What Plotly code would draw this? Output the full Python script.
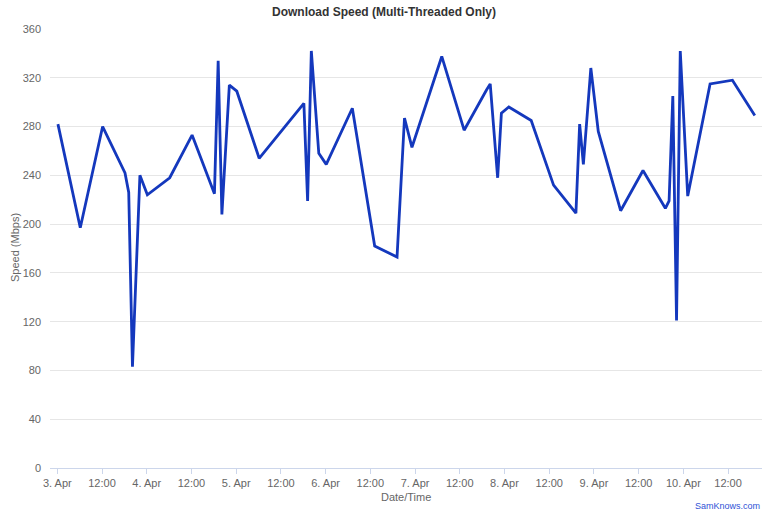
import plotly.graph_objects as go
from datetime import datetime, timedelta

# Hours after 3 Apr 00:00 and download speed (Mbps)
hours = [0, 6, 12, 18, 19, 20, 22, 24, 30, 36, 42, 43, 44, 46, 48, 54,
         66, 67, 68, 70, 72, 79, 85, 91, 93, 95, 103, 109, 115, 116, 118, 119,
         121, 127, 133, 139, 140, 141, 143, 145, 151, 157, 163, 164, 165, 166,
         167, 169, 175, 181, 187]
speeds = [282, 197, 280, 242, 226, 83, 240, 224, 238, 273, 225, 334, 208, 314, 309, 254,
          299, 219, 342, 258, 249, 295, 182, 173, 287, 263, 337.5, 277, 310, 315, 238, 291,
          296, 285, 232, 209, 282, 249, 328, 276, 211, 244, 213, 219, 305, 121,
          342, 223, 315, 318, 289]

base = datetime(2014, 4, 3, 0, 10)
times = [base + timedelta(hours=h) for h in hours]

tick_vals = [datetime(2014, 4, 3) + timedelta(hours=12 * i) for i in range(16)]
tick_text = ["3. Apr", "12:00", "4. Apr", "12:00", "5. Apr", "12:00", "6. Apr", "12:00",
             "7. Apr", "12:00", "8. Apr", "12:00", "9. Apr", "12:00", "10. Apr", "12:00"]
y_ticks = [0, 40, 80, 120, 160, 200, 240, 280, 320, 360]

font_family = "Arial, Liberation Sans, sans-serif"

L, R, T, B = 50, 6, 29, 44
plot_w = 768 - L - R
plot_h = 512 - T - B

fig = go.Figure()
fig.add_trace(go.Scatter(
    x=times, y=speeds, mode="lines",
    line=dict(color="#1438bd", width=2.8),
    hoverinfo="x+y", showlegend=False,
))

fig.update_layout(
    template="none",
    width=768, height=512,
    margin=dict(l=L, r=R, t=T, b=B, autoexpand=False),
    paper_bgcolor="white", plot_bgcolor="white",
    font=dict(family=font_family, size=11, color="#666666"),
    title=dict(text="<b>Download Speed (Multi-Threaded Only)</b>", x=0.5, xanchor="center",
               y=1 - 12 / 512, yanchor="middle",
               font=dict(family=font_family, size=12, color="#333333")),
    xaxis=dict(
        type="date", automargin=False,
        range=[datetime(2014, 4, 3) - timedelta(hours=1.96), datetime(2014, 4, 3) + timedelta(hours=189.1)],
        tickvals=tick_vals, ticktext=tick_text,
        ticks="outside", ticklen=5, tickcolor="#ccd6eb", tickwidth=1,
        showline=True, linecolor="#ccd6eb", linewidth=1,
        showgrid=False, zeroline=False,
        tickfont=dict(size=11, color="#666666"),
    ),
    yaxis=dict(
        range=[0, 360], tickvals=y_ticks, automargin=False,
        showgrid=True, gridcolor="#e6e6e6", gridwidth=1,
        zeroline=False, showline=False, ticks="",
        ticklabelstandoff=8,
        tickfont=dict(size=11, color="#666666"),
    ),
    annotations=[
        dict(text="Speed (Mbps)", textangle=-90,
             x=(15 - L) / plot_w, y=(512 - B - 248) / plot_h, xref="paper", yref="paper",
             xanchor="center", yanchor="middle",
             showarrow=False, font=dict(size=11, color="#666666")),
        dict(text="Date/Time",
             x=(406 - L) / plot_w, y=-(497 - (512 - B)) / plot_h, xref="paper", yref="paper",
             xanchor="center", yanchor="middle",
             showarrow=False, font=dict(size=11, color="#666666")),
        dict(text="SamKnows.com",
             x=(762 - L) / plot_w, y=-(506 - (512 - B)) / plot_h, xref="paper", yref="paper",
             xanchor="right", yanchor="middle",
             showarrow=False, font=dict(size=9, color="#2f52d6")),
    ],
)

fig.write_html("out.html", config={"displayModeBar": False},
               post_script="document.body.style.margin='0';")
